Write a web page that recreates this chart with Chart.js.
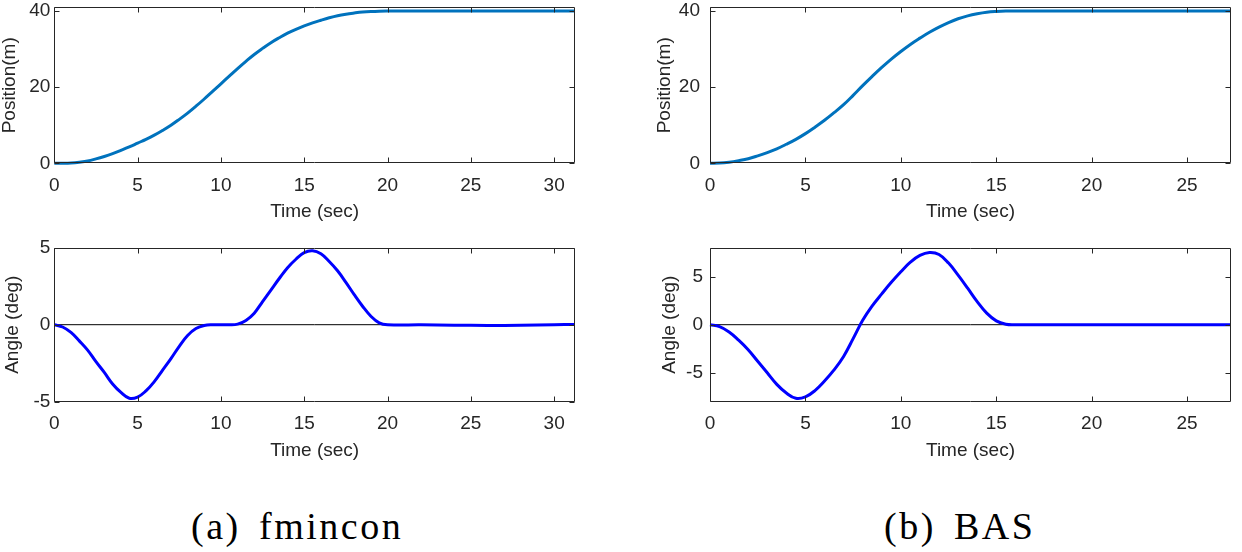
<!doctype html>
<html>
	<head>
		<meta charset="utf-8" />
		<title>Position and angle | fmincon vs BAS</title>
		<script src="https://cdn.jsdelivr.net/npm/chart.js@4.4.1/dist/chart.umd.min.js"></script>
		<style>
			html,
			body {
				margin: 0;
				padding: 0;
				background: #fff;
			}

			body {
				position: relative;
				width: 1242px;
				height: 552px;
				overflow: hidden;
			}

			canvas {
				position: absolute;
			}

			.caption {
				position: absolute;
				top: 507px;
				font-family: "Liberation Serif", "Times New Roman", serif;
				font-size: 38px;
				line-height: 1;
				letter-spacing: 2.5px;
				color: #000;
				white-space: nowrap;
			}
		</style>
	</head>

	<body>
		<canvas id="posA"></canvas>
		<canvas id="angA"></canvas>
		<canvas id="posB"></canvas>
		<canvas id="angB"></canvas>

		<span class="caption" style="left: 191px">(a)</span>
		<span class="caption" style="left: 259px">fmincon</span>
		<span class="caption" style="left: 884px">(b)</span>
		<span class="caption" style="left: 954px">BAS</span>

		<script>
			// values (time in sec)
			const timeA = [0, 0.5, 1, 1.5, 2, 2.5, 3, 3.5, 4, 4.5, 5, 5.5, 6, 6.5, 7, 7.5, 8, 8.5, 9, 9.5, 10, 10.5, 11, 11.5, 12, 12.5, 13, 13.5, 14, 14.5, 15, 15.5, 16, 16.5, 17, 17.5, 18, 18.5, 19, 19.5, 20, 22, 24, 26, 28, 30, 31.25];
			const positionA = [0, 0.02, 0.1, 0.3, 0.6, 1.15, 1.8, 2.55, 3.4, 4.3, 5.3, 6.3, 7.4, 8.65, 10.0, 11.55, 13.2, 15.0, 16.9, 18.9, 20.9, 22.9, 24.9, 26.8, 28.6, 30.2, 31.7, 33.0, 34.2, 35.2, 36.1, 36.9, 37.6, 38.25, 38.8, 39.2, 39.5, 39.75, 39.9, 39.98, 40, 40, 40, 40, 40, 40, 40];
			const angleA = [0, -0.15, -0.5, -1.05, -1.65, -2.4, -3.1, -3.85, -4.4, -4.78, -4.7, -4.3, -3.7, -2.95, -2.2, -1.4, -0.7, -0.25, -0.05, 0, 0, 0, 0.04, 0.28, 0.75, 1.5, 2.25, 3.0, 3.7, 4.25, 4.68, 4.8, 4.6, 4.1, 3.5, 2.75, 1.95, 1.2, 0.55, 0.12, 0, -0.01, -0.03, -0.05, -0.04, 0, 0.02];

			const timeB = [0, 0.5, 1, 1.5, 2, 2.5, 3, 3.5, 4, 4.5, 5, 5.5, 6, 6.5, 7, 7.5, 8, 8.5, 9, 9.5, 10, 10.5, 11, 11.5, 12, 12.5, 13, 13.5, 14, 14.5, 15, 15.5, 16, 18, 20, 22, 24, 26, 27.3];
			const positionB = [0, 0.05, 0.3, 0.7, 1.2, 1.95, 2.8, 3.8, 5.0, 6.3, 7.8, 9.5, 11.3, 13.3, 15.4, 17.85, 20.4, 22.85, 25.2, 27.4, 29.4, 31.25, 32.9, 34.45, 35.8, 37.0, 38.0, 38.75, 39.3, 39.7, 39.9, 40, 40, 40, 40, 40, 40, 40, 40];
			const angleB = [0, -0.2, -0.75, -1.6, -2.6, -3.8, -5.0, -6.2, -7.1, -7.65, -7.5, -6.85, -5.85, -4.7, -3.3, -1.45, 0.45, 1.95, 3.2, 4.4, 5.5, 6.5, 7.2, 7.5, 7.3, 6.4, 5.15, 3.8, 2.4, 1.2, 0.4, 0.05, 0, 0, 0, 0, 0, 0, 0];

			// axis limits and tick labels
			const xRangeA = [0, 31.25];
			const xRangeB = [0, 27.3];
			const xTicksA = [0, 5, 10, 15, 20, 25, 30];
			const xTicksB = [0, 5, 10, 15, 20, 25];
			const posRange = [0, 41];
			const posTicks = [0, 20, 40];
			const angRangeA = [-5, 5];
			const angRangeB = [-8, 8];
			const angTicks = [-5, 0, 5];
			const zeroLine = [0, 0];

			const axisColor = "#262626";
			Chart.defaults.font.family = '"Liberation Sans", Arial, Helvetica, sans-serif';

			// matlab style box with inward ticks on all four sides
			const matlabBox = {
				id: "matlabBox",
				afterDatasetsDraw(chart) {
					const { ctx, chartArea: a, scales } = chart;
					const L = Math.round(a.left) + 0.5,
						R = Math.round(a.right) - 0.5,
						T = Math.round(a.top) + 0.5,
						B = Math.round(a.bottom) - 0.5;
					const len = 5;
					ctx.save();
					ctx.strokeStyle = axisColor;
					ctx.lineWidth = 1;
					ctx.beginPath();
					ctx.rect(L, T, R - L, B - T);
					scales.x.ticks.forEach((t) => {
						const px = Math.round(scales.x.getPixelForValue(t.value)) + 0.5;
						ctx.moveTo(px, B);
						ctx.lineTo(px, B - len);
						ctx.moveTo(px, T);
						ctx.lineTo(px, T + len);
					});
					scales.y.ticks.forEach((t) => {
						const py = Math.round(scales.y.getPixelForValue(t.value)) + 0.5;
						ctx.moveTo(L, py);
						ctx.lineTo(L + len, py);
						ctx.moveTo(R, py);
						ctx.lineTo(R - len, py);
					});
					ctx.stroke();
					ctx.restore();
				},
			};

			function makePanel(p) {
				const canvas = document.getElementById(p.id);
				canvas.width = p.w;
				canvas.height = p.h;
				canvas.style.left = p.left + "px";
				canvas.style.top = p.top + "px";

				const datasets = [
					{
						data: p.time.map((t, i) => ({ x: t, y: p.values[i] })),
						borderColor: p.color,
						borderWidth: 3,
						pointRadius: 0,
						tension: 0.4,
						clip: 4,
					},
				];
				if (p.zero) {
					datasets.push({
						data: p.zero.map((v, i) => ({ x: p.xRange[i], y: v })),
						borderColor: "#000",
						borderWidth: 1,
						pointRadius: 0,
						clip: 0,
					});
				}

				return new Chart(canvas, {
					type: "line",
					data: { datasets },
					options: {
						responsive: false,
						animation: false,
						events: [],
						layout: {
							autoPadding: false,
							padding: { left: 0, top: p.area.t, right: p.w - p.area.r, bottom: 0 },
						},
						plugins: { legend: { display: false }, tooltip: { enabled: false } },
						scales: {
							x: {
								type: "linear",
								min: p.xRange[0],
								max: p.xRange[1],
								grid: { display: false, drawTicks: false },
								border: { display: false },
								afterBuildTicks: (s) => {
									s.ticks = p.xTicks.map((v) => ({ value: v }));
								},
								afterFit: (s) => {
									s.height = p.h - p.area.b;
									s.paddingLeft = 0;
									s.paddingRight = 0;
								},
								ticks: {
									autoSkip: false,
									maxRotation: 0,
									padding: 11,
									color: axisColor,
									font: { size: 19 },
								},
								title: {
									display: true,
									text: "Time (sec)",
									color: axisColor,
									font: { size: 19, lineHeight: 1 },
									padding: { top: 0, bottom: p.xTitlePad },
								},
							},
							y: {
								type: "linear",
								min: p.yRange[0],
								max: p.yRange[1],
								grid: { display: false, drawTicks: false },
								border: { display: false },
								afterBuildTicks: (s) => {
									s.ticks = p.yTicks.map((v) => ({ value: v }));
								},
								afterFit: (s) => {
									s.width = p.area.l;
									s.paddingTop = 0;
									s.paddingBottom = 0;
								},
								ticks: {
									autoSkip: false,
									padding: p.yTickPad,
									color: axisColor,
									font: { size: 19 },
								},
								title: {
									display: true,
									text: p.yTitle,
									color: axisColor,
									font: { size: 19, lineHeight: 1 },
									padding: { top: p.yTitlePad, bottom: 0 },
								},
							},
						},
					},
					plugins: [matlabBox],
				});
			}

			makePanel({
				id: "posA", left: 0, top: 0, w: 600, h: 236,
				area: { l: 54.3, t: 7.3, r: 575, b: 163.3 },
				time: timeA, values: positionA, color: "#0072BD",
				xRange: xRangeA, xTicks: xTicksA, yRange: posRange, yTicks: posTicks,
				yTitle: "Position(m)", yTitlePad: 0, yTickPad: 4, xTitlePad: 14.5,
			});
			makePanel({
				id: "angA", left: 0, top: 236, w: 600, h: 236,
				area: { l: 54.3, t: 11.7, r: 575, b: 165.7 },
				time: timeA, values: angleA, color: "#0000FF", zero: zeroLine,
				xRange: xRangeA, xTicks: xTicksA, yRange: angRangeA, yTicks: angTicks,
				yTitle: "Angle (deg)", yTitlePad: 3, yTickPad: 4, xTitlePad: 11.5,
			});
			makePanel({
				id: "posB", left: 620, top: 0, w: 622, h: 236,
				area: { l: 90, t: 7.3, r: 611, b: 163.3 },
				time: timeB, values: positionB, color: "#0072BD",
				xRange: xRangeB, xTicks: xTicksB, yRange: posRange, yTicks: posTicks,
				yTitle: "Position(m)", yTitlePad: 35.5, yTickPad: 10, xTitlePad: 14.5,
			});
			makePanel({
				id: "angB", left: 620, top: 236, w: 622, h: 236,
				area: { l: 90, t: 11.7, r: 611, b: 165.7 },
				time: timeB, values: angleB, color: "#0000FF", zero: zeroLine,
				xRange: xRangeB, xTicks: xTicksB, yRange: angRangeB, yTicks: angTicks,
				yTitle: "Angle (deg)", yTitlePad: 40, yTickPad: 7, xTitlePad: 11.5,
			});
		</script>
	</body>
</html>
